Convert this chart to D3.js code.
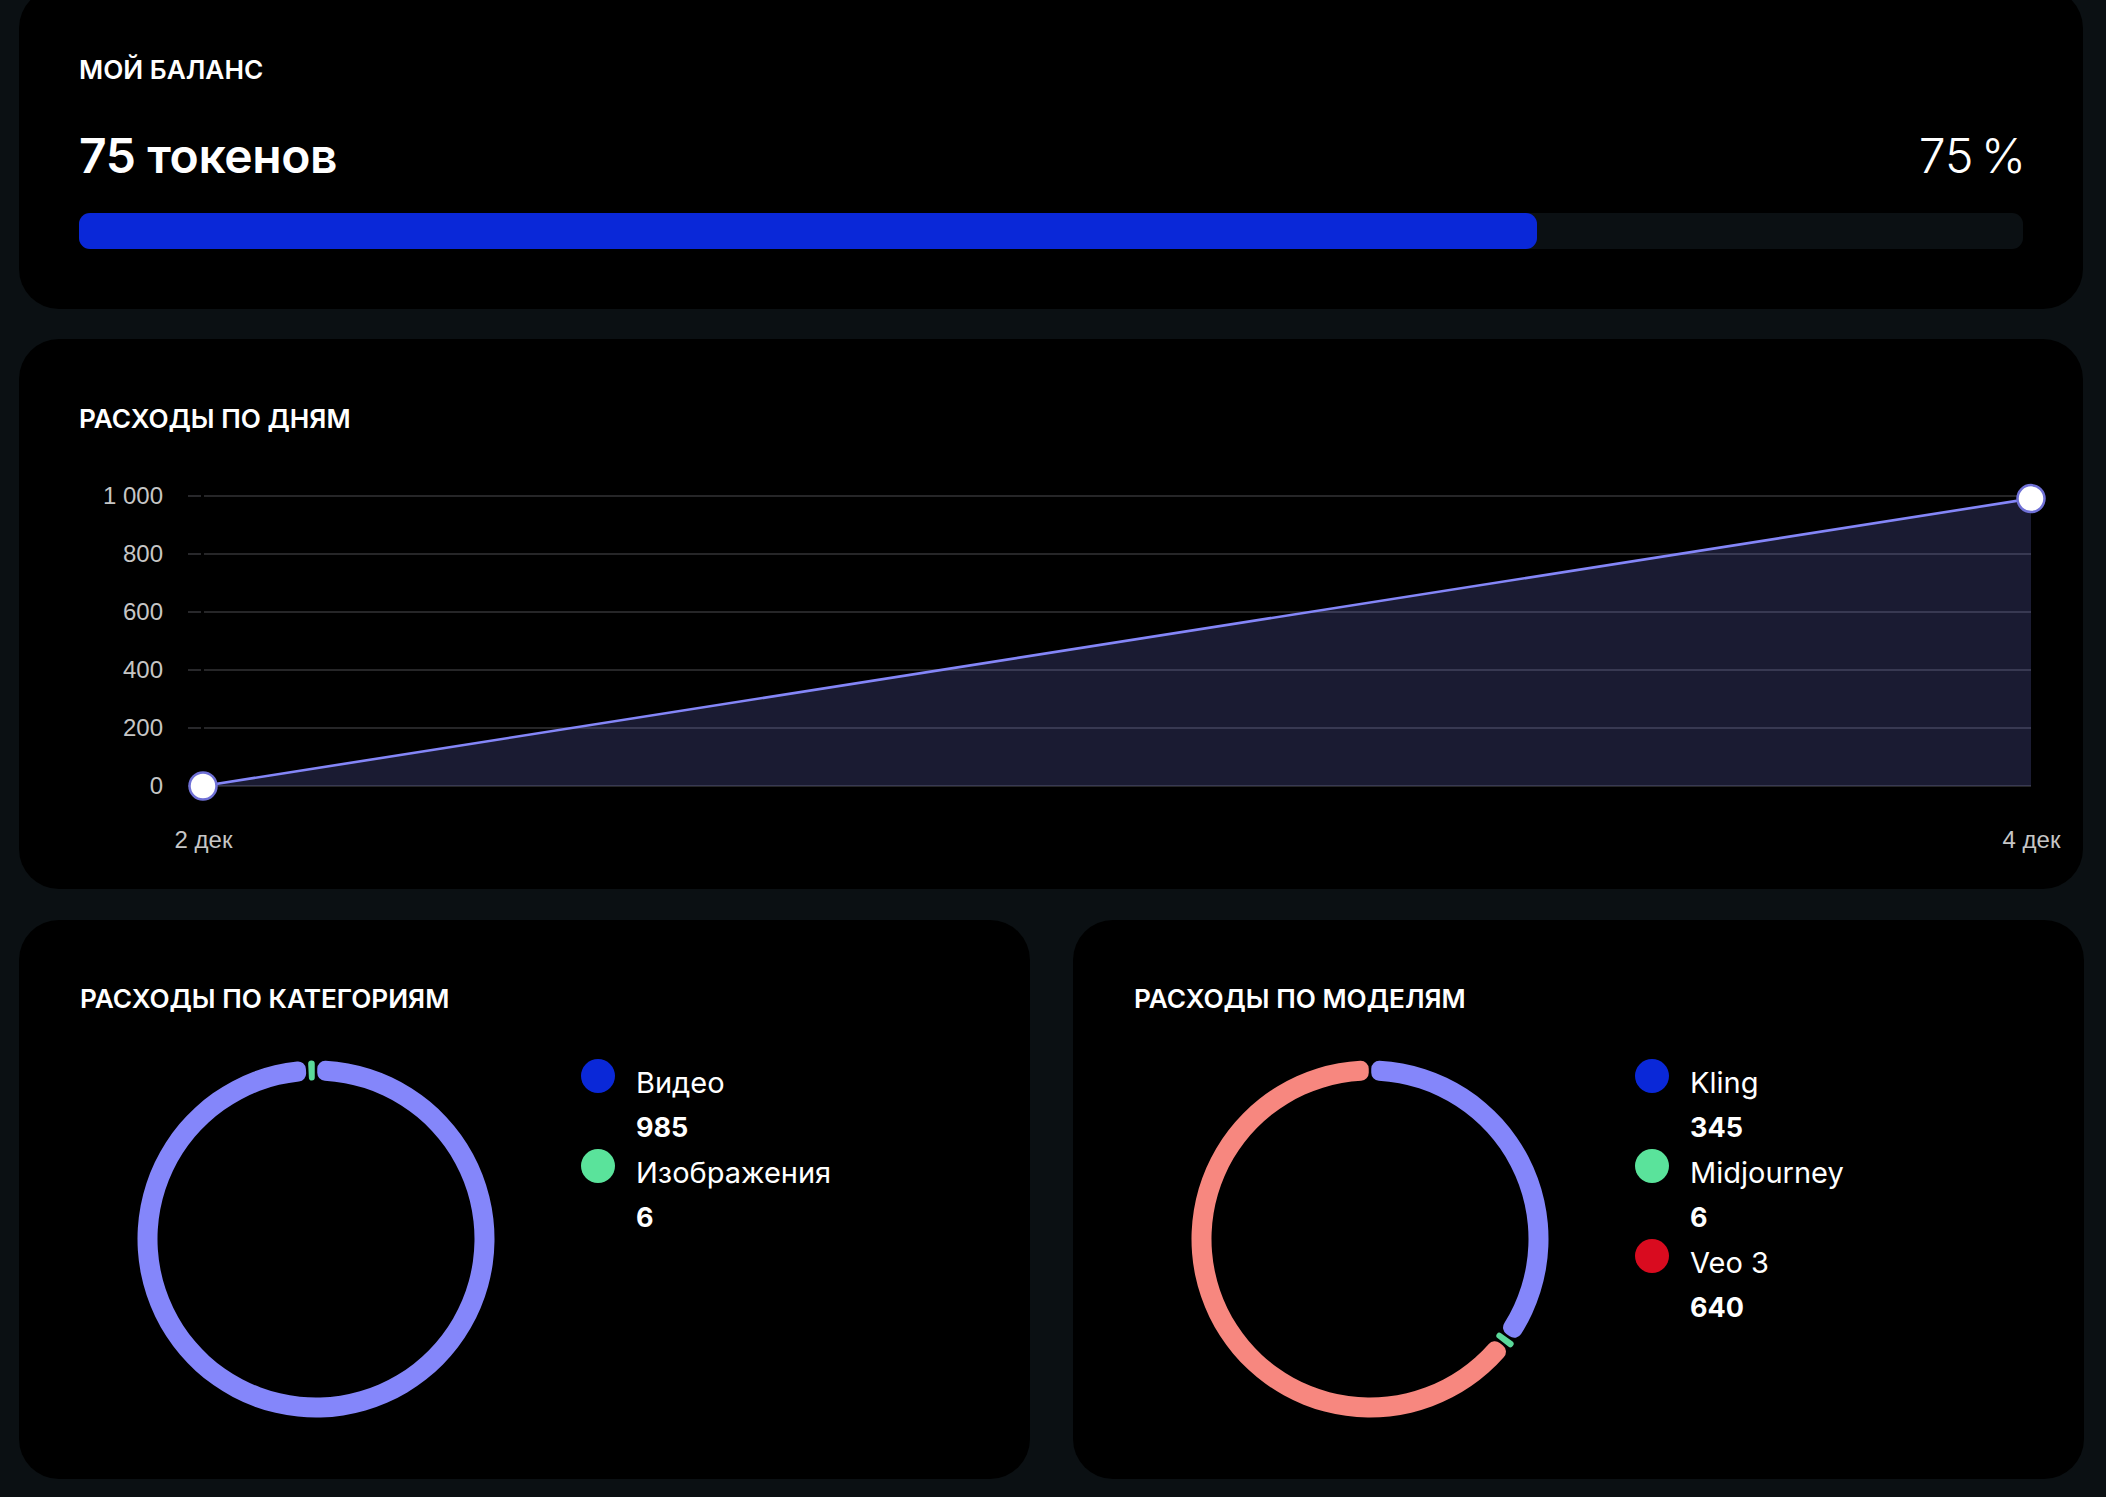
<!DOCTYPE html>
<html><head><meta charset="utf-8">
<script src="https://cdn.jsdelivr.net/npm/d3@7/dist/d3.min.js"></script>
<style>
html,body{margin:0;padding:0;background:#0b1013;overflow:hidden;}
svg{display:block;}
</style></head>
<body>
<svg id="c" width="2106" height="1497"></svg>
<script>
// ---- data ----
const balanceTokens = 75;
const balancePercent = 75;
const days = ["2 дек", "4 дек"];
const dailySpend = [0, 991];
const yTicks = [0, 200, 400, 600, 800, 1000];
const categoryNames = ["Видео", "Изображения"];
const categoryValues = [985, 6];
const modelNames = ["Kling", "Midjourney", "Veo 3"];
const modelValues = [345, 6, 640];
const titles = ["МОЙ БАЛАНС", "РАСХОДЫ ПО ДНЯМ", "РАСХОДЫ ПО КАТЕГОРИЯМ", "РАСХОДЫ ПО МОДЕЛЯМ"];

// ---- styles ----
const legendColors = ["#0a28d8", "#5ae39b", "#d90b1f"];
const donutColors = ["#8486fa", "#5bd99a", "#f7877f"];
const FONT = "Inter, 'Noto Sans', sans-serif";
const AXFONT = "'Liberation Sans', Arial, sans-serif";

const svg = d3.select("#c");
const loc = d3.formatLocale({decimal: ",", thousands: "\u00a0", grouping: [3], currency: ["", ""]});
const fmt = loc.format(",d");

function card(x, y, w, h) {
  svg.append("rect").attr("x", x).attr("y", y).attr("width", w).attr("height", h)
    .attr("rx", 40).attr("fill", "#000");
}
function title(x, y, t) {
  svg.append("text").attr("x", x).attr("y", y).text(t)
    .attr("fill", "#fff").attr("font-family", FONT).attr("font-weight", 600)
    .attr("font-size", 26.2);
}

// Card 1: balance
card(19, -12, 2064, 321);
title(79, 79, titles[0]);
svg.append("text").attr("x", 79).attr("y", 173).text(balanceTokens + " токенов")
  .attr("fill", "#fff").attr("font-family", FONT).attr("font-weight", 600).attr("font-size", 48)
  .attr("letter-spacing", -0.4);
svg.append("text").attr("x", 2026).attr("y", 173).attr("text-anchor", "end")
  .text(balancePercent + " %")
  .attr("fill", "#fff").attr("font-family", FONT).attr("font-weight", 300).attr("font-size", 48)
  .attr("word-spacing", -6);
const pScale = d3.scaleLinear().domain([0, 100]).range([0, 1944]);
svg.append("rect").attr("x", 79).attr("y", 213).attr("width", pScale(100)).attr("height", 36)
  .attr("rx", 11).attr("fill", "#0b1013");
svg.append("rect").attr("x", 79).attr("y", 213).attr("width", pScale(balancePercent)).attr("height", 36)
  .attr("rx", 11).attr("fill", "#0a28d8");

// Card 2: daily line
card(19, 339, 2064, 550);
title(79, 428, titles[1]);
const x = d3.scalePoint().domain(days).range([203, 2031]);
const y = d3.scaleLinear().domain([0, 1000]).range([786, 496]);
const gGrid = svg.append("g");
yTicks.forEach(t => {
  gGrid.append("line").attr("x1", 188).attr("x2", 201).attr("y1", y(t)).attr("y2", y(t))
    .attr("stroke", "#333336").attr("stroke-width", 1.6);
  gGrid.append("line").attr("x1", 204).attr("x2", 2031).attr("y1", y(t)).attr("y2", y(t))
    .attr("stroke", "#333336").attr("stroke-width", 1.6);
});
const yAxis = svg.append("g").attr("transform", "translate(188,0)")
  .call(d3.axisLeft(y).tickValues(yTicks).tickFormat(fmt).tickSize(0).tickPadding(25));
yAxis.select(".domain").remove();
yAxis.selectAll("text").attr("fill", "#c6c6c6").attr("font-family", AXFONT).attr("font-size", 24);
const xAxis = svg.append("g").attr("transform", "translate(0,830)")
  .call(d3.axisBottom(x).tickSize(0).tickPadding(0));
xAxis.select(".domain").remove();
xAxis.selectAll("text").attr("fill", "#c6c6c6").attr("font-family", AXFONT).attr("font-size", 24)
  .attr("dy", "0.75em");
const pts = days.map((d, i) => ({d, v: dailySpend[i]}));
svg.append("path").datum(pts)
  .attr("d", d3.area().x(p => x(p.d)).y0(y(0)).y1(p => y(p.v)))
  .attr("fill", "rgba(132,134,248,0.2)");
svg.append("path").datum(pts)
  .attr("d", d3.line().x(p => x(p.d)).y(p => y(p.v)))
  .attr("fill", "none").attr("stroke", "#8486f8").attr("stroke-width", 2.6);
svg.selectAll(".pt").data(pts).enter().append("circle")
  .attr("cx", p => x(p.d)).attr("cy", p => y(p.v)).attr("r", 13.5)
  .attr("fill", "#fff").attr("stroke", "#6f70d6").attr("stroke-width", 2.5);

// Donut cards
function donutCard(cx0, names, values, ttl) {
  card(cx0, 920, 1011, 559);
  title(cx0 + 61, 1008, ttl);
  const cx = cx0 + 297, cy = 1239, R = 178.5, r = 158.5;
  const pie = d3.pie().sort(null).value(d => d.v).padAngle(0.014);
  const arc = d3.arc().innerRadius(r).outerRadius(R).cornerRadius(8).padRadius(R);
  const data = names.map((n, i) => ({n, v: values[i], c: donutColors[i]}));
  const g = svg.append("g").attr("transform", `translate(${cx},${cy})`);
  g.selectAll("path").data(pie(data)).enter().append("path")
    .attr("d", arc).attr("fill", d => d.data.c);
  const lg = svg.append("g").attr("transform", `translate(${cx0 + 579},1076)`);
  data.forEach((d, i) => {
    const yy = i * 90;
    lg.append("circle").attr("cx", 0).attr("cy", yy).attr("r", 17).attr("fill", legendColors[i]);
    lg.append("text").attr("x", 38).attr("y", yy + 17).text(d.n)
      .attr("fill", "#fff").attr("font-family", FONT).attr("font-weight", 400).attr("font-size", 29);
    lg.append("text").attr("x", 38).attr("y", yy + 61).text(fmt(d.v))
      .attr("fill", "#fff").attr("font-family", FONT).attr("font-weight", 700).attr("font-size", 27);
  });
}
donutCard(19, categoryNames, categoryValues, titles[2]);
donutCard(1073, modelNames, modelValues, titles[3]);
</script>
</body></html>
